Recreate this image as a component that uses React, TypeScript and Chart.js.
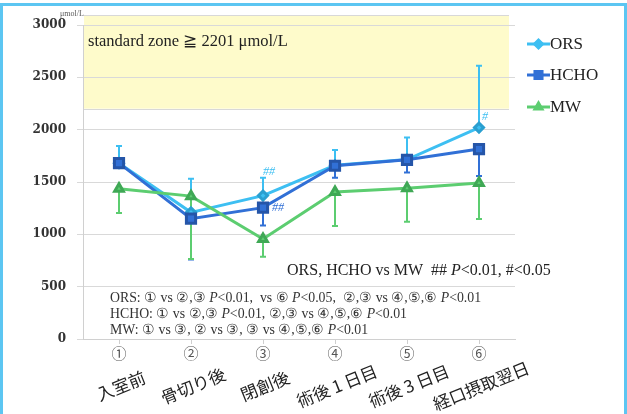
import React, { useEffect, useRef } from 'react';
import { Chart, registerables } from 'chart.js';
import { drawPoint } from 'chart.js/helpers';

Chart.register(...registerables);

// ---------- data ----------
const CATEGORIES = ['入室前', '骨切り後', '閉創後', '術後 1 日目', '術後 3 日目', '経口摂取翌日'];
const CIRCLED = ['①', '②', '③', '④', '⑤', '⑥'];
const SERIES_NAMES = ['ORS', 'HCHO', 'MW'];
const ORS = [1680, 1210, 1370, 1660, 1715, 2020];
const ORS_ERR_UP = [1845, 1530, 1540, 1805, 1925, 2610];
const HCHO = [1680, 1150, 1255, 1655, 1712, 1815];
const HCHO_ERR_DOWN = [null, 760, 1085, 1540, 1590, 1558];
const MW = [1435, 1365, 955, 1405, 1440, 1490];
const MW_ERR_DOWN = [1205, 765, 785, 1080, 1120, 1147];
const Y_MIN = 0;
const Y_MAX = 3000;
const Y_STEP = 500;
const STANDARD_ZONE_MIN = 2201;
const UNIT = 'μmol/L';
const ZONE_TEXT = 'standard zone ≧ 2201 μmol/L';
const SIG_TEXT = 'ORS, HCHO vs MW  ## *P*<0.01, #<0.05';
const NOTE_LINES = [
  'ORS: ① vs ②,③ *P*<0.01,  vs ⑥ *P*<0.05,  ②,③ vs ④,⑤,⑥ *P*<0.01',
  'HCHO: ① vs ②,③ *P*<0.01, ②,③ vs ④,⑤,⑥ *P*<0.01',
  'MW: ① vs ③, ② vs ③, ③ vs ④,⑤,⑥ *P*<0.01',
];
// significance marks: [series index, category index, text]
const SIG_MARKS: [number, number, string][] = [
  [0, 2, '##'],
  [1, 2, '##'],
  [0, 5, '#'],
];

// ---------- styles ----------
const C_ORS = '#3dbff2';
const C_HCHO = '#3170d6';
const C_MW = '#5ccd70';
const SERIF = '"Liberation Serif", "DejaVu Serif", serif';
const CJK = '"Noto Sans CJK JP", "Noto Sans", sans-serif';

function drawRich(ctx: CanvasRenderingContext2D, text: string, x: number, y: number, size: number, color: string) {
  const parts = text.split('*');
  let cx = x;
  ctx.fillStyle = color;
  ctx.textBaseline = 'middle';
  ctx.textAlign = 'left';
  parts.forEach((p, i) => {
    ctx.font = (i % 2 === 1 ? 'italic ' : '') + size + 'px ' + SERIF;
    ctx.fillText(p, cx, y);
    cx += ctx.measureText(p).width;
  });
}

const decorPlugin = {
  id: 'decor',
  beforeDraw(chart: any) {
    const { ctx, chartArea, scales } = chart;
    const y = scales.y;
    const top = chartArea.top - 10;
    const bottom = y.getPixelForValue(STANDARD_ZONE_MIN);
    const left = chartArea.left + 1;
    const right = chartArea.right - 6;
    ctx.save();
    ctx.fillStyle = '#fefbcb';
    ctx.fillRect(left, top, right - left, bottom - top);
    ctx.strokeStyle = '#d8d8d8';
    ctx.lineWidth = 1;
    ctx.beginPath();
    ctx.moveTo(left, top + 0.5);
    ctx.lineTo(right, top + 0.5);
    ctx.moveTo(left, Math.round(bottom) + 0.5);
    ctx.lineTo(right, Math.round(bottom) + 0.5);
    ctx.stroke();
    ctx.restore();
  },
  beforeDatasetsDraw(chart: any) {
    const { ctx, scales } = chart;
    const { x, y } = scales;
    ctx.save();
    chart.data.datasets.forEach((ds: any) => {
      const ends = ds.errorEnds as (number | null)[];
      if (!ends) return;
      ctx.strokeStyle = ds.borderColor;
      ctx.lineWidth = 2;
      ends.forEach((e, i) => {
        if (e == null) return;
        const px = x.getPixelForValue(i);
        const p0 = y.getPixelForValue(ds.data[i]);
        const p1 = y.getPixelForValue(e);
        ctx.beginPath();
        ctx.moveTo(px, p0);
        ctx.lineTo(px, p1);
        ctx.moveTo(px - 3, p1);
        ctx.lineTo(px + 3, p1);
        ctx.stroke();
      });
    });
    ctx.restore();
  },
  afterDraw(chart: any) {
    const { ctx, chartArea, scales } = chart;
    const { x, y } = scales;
    ctx.save();
    // unit
    ctx.font = '8px ' + SERIF;
    ctx.fillStyle = '#555';
    ctx.textAlign = 'left';
    ctx.textBaseline = 'middle';
    ctx.fillText(UNIT, 60, 14);
    // zone text
    ctx.font = '16.5px ' + SERIF;
    ctx.fillStyle = '#222';
    ctx.fillText(ZONE_TEXT, chartArea.left + 5, 42);
    // significance summary
    drawRich(ctx, SIG_TEXT, 287, 271, 16, '#222');
    NOTE_LINES.forEach((l, i) => drawRich(ctx, l, 110, 298 + i * 16, 13.8, '#333'));
    // sig marks
    SIG_MARKS.forEach(([si, ci, t]) => {
      const ds = chart.data.datasets[si];
      const px = x.getPixelForValue(ci);
      const py = y.getPixelForValue(ds.data[ci]);
      ctx.fillStyle = ds.borderColor;
      ctx.textAlign = 'left';
      ctx.font = 'italic 12px ' + SERIF;
      if (t === '#') {
        ctx.fillText(t, px + 3, py - 11);
      } else if (si === 0) {
        ctx.fillText(t, px, py - 24);
      } else {
        ctx.fillText(t, px + 9, py);
      }
    });
    // rotated category names
    ctx.fillStyle = '#222';
    ctx.font = '17px ' + CJK;
    ctx.textAlign = 'center';
    ctx.textBaseline = 'middle';
    CATEGORIES.forEach((c, i) => {
      const px = x.getPixelForValue(i);
      ctx.save();
      ctx.translate(px + 2, 386);
      ctx.rotate((-22 * Math.PI) / 180);
      ctx.fillText(c, 0, 0);
      ctx.restore();
    });
    // legend
    const ly = [44, 75, 107];
    chart.data.datasets.forEach((ds: any, i: number) => {
      const yy = ly[i];
      ctx.strokeStyle = ds.borderColor;
      ctx.lineWidth = 3;
      ctx.beginPath();
      ctx.moveTo(527, yy);
      ctx.lineTo(550, yy);
      ctx.stroke();
      ctx.fillStyle = ds.borderColor;
      ctx.strokeStyle = ds.borderColor;
      drawPoint(ctx, { pointStyle: ds.pointStyle, radius: ds.pointStyle === 'rect' ? 5 : 4, rotation: 0, borderWidth: 1 } as any, 538.5, yy);
      ctx.fillStyle = '#222';
      ctx.font = '17px ' + SERIF;
      ctx.textAlign = 'left';
      ctx.textBaseline = 'middle';
      ctx.fillText(SERIES_NAMES[i], 550, yy + 1);
    });
    // frame
    ctx.strokeStyle = '#5cc6f2';
    ctx.lineWidth = 3;
    ctx.strokeRect(1.5, 4.5, 624, 420);
    ctx.restore();
  },
};

export default function App() {
  const ref = useRef<HTMLCanvasElement>(null);
  useEffect(() => {
    const chart = new Chart(ref.current!, {
      type: 'line',
      data: {
        labels: CATEGORIES,
        datasets: [
          {
            label: SERIES_NAMES[0], data: ORS, errorEnds: ORS_ERR_UP,
            borderColor: C_ORS, backgroundColor: C_ORS, pointBorderColor: '#2a9fd0',
            borderWidth: 3, pointStyle: 'rectRot', pointRadius: 4.5, tension: 0, order: 3,
          } as any,
          {
            label: SERIES_NAMES[1], data: HCHO, errorEnds: HCHO_ERR_DOWN,
            borderColor: C_HCHO, backgroundColor: C_HCHO, pointBorderColor: '#2555a8',
            borderWidth: 3, pointStyle: 'rect', pointRadius: 6.5, tension: 0, order: 2,
          } as any,
          {
            label: SERIES_NAMES[2], data: MW, errorEnds: MW_ERR_DOWN,
            borderColor: C_MW, backgroundColor: C_MW, pointBorderColor: '#3fa855',
            borderWidth: 3, pointStyle: 'triangle', pointRadius: 5, tension: 0, order: 1,
          } as any,
        ],
      },
      options: {
        animation: false,
        responsive: false,
        layout: { padding: { left: 0, right: 112, top: 25, bottom: 0 } },
        plugins: { legend: { display: false }, tooltip: { enabled: false } },
        scales: {
          x: {
            offset: true,
            grid: { display: true, drawOnChartArea: false, drawTicks: true, tickLength: 5, color: '#cfcfcf', offset: false },
            border: { display: true, color: '#d0d0d0' },
            ticks: {
              maxRotation: 0, minRotation: 0, padding: 0,
              color: '#555', font: { family: CJK, size: 15 },
              callback: (_v: any, i: number) => CIRCLED[i],
            },
            afterFit: (s: any) => { s.height = 75; },
          },
          y: {
            min: Y_MIN, max: Y_MAX,
            grid: { color: '#d9d9d9', tickLength: 6 },
            border: { display: true, color: '#d0d0d0' },
            ticks: {
              stepSize: Y_STEP, padding: 11, color: '#333',
              font: { family: '"DejaVu Serif", serif', size: 12, weight: 'bold' },
              callback: (v: any) => String(v),
            },
            afterFit: (s: any) => { s.width = 83; },
          },
        },
      },
      plugins: [decorPlugin],
    });
    return () => chart.destroy();
  }, []);
  return (
    <div style={{ position: 'fixed', left: 0, top: 0, width: 627, height: 414, background: '#fff' }}>
      <canvas ref={ref} width={627} height={414} />
    </div>
  );
}
